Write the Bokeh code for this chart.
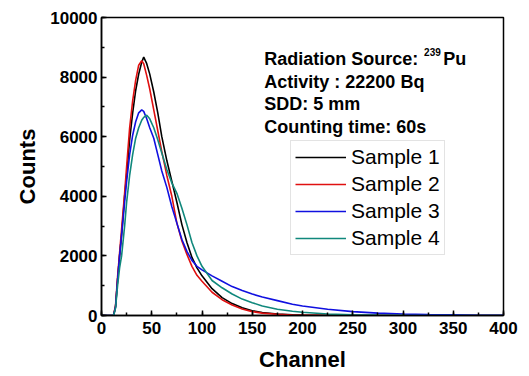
from bokeh.plotting import figure
from bokeh.models import Legend, LegendItem, Label, Range1d, FixedTicker
from bokeh.embed import file_html
from bokeh.resources import INLINE

channels = [0, 12, 14, 16, 18, 20, 23, 25, 28, 31, 34, 37, 40, 42, 45, 48, 52, 56, 60,
            65, 70, 75, 80, 85, 90, 95, 100, 110, 120, 130, 140, 150, 160, 175, 190,
            200, 225, 250, 275, 300, 325, 350, 375, 400]

sample1 = [0, 0, 300, 1200, 2000, 2700, 4000, 4700, 5900, 6800, 7550, 8100, 8500, 8670,
           8450, 8100, 7500, 6800, 6000, 5200, 4500, 3800, 3050, 2450, 1950, 1600, 1330,
           900, 600, 400, 260, 160, 100, 50, 25, 18, 8, 4, 2, 0, 0, 0, 0, 0]
sample2 = [0, 0, 350, 1300, 2100, 2900, 4100, 5000, 6300, 7200, 7900, 8400, 8550, 8450,
           8050, 7600, 6900, 6200, 5500, 4700, 4000, 3100, 2500, 2050, 1650, 1350, 1150,
           780, 530, 350, 220, 130, 80, 40, 15, 10, 3, 0, 0, 0, 0, 0, 0, 0]
sample3 = [0, 0, 300, 1200, 2000, 2700, 3800, 4500, 5400, 6050, 6500, 6800, 6900, 6850,
           6600, 6300, 5950, 5400, 4850, 4300, 3650, 3100, 2550, 2150, 1850, 1650, 1530,
           1330, 1150, 970, 840, 720, 620, 500, 380, 320, 210, 130, 80, 50, 30, 20, 10, 5]
sample4 = [0, 0, 250, 1000, 1600, 2000, 3000, 3800, 4700, 5400, 5950, 6300, 6550, 6650,
           6720, 6600, 6300, 5900, 5450, 4900, 4450, 4100, 3600, 3050, 2450, 2000, 1650,
           1175, 930, 720, 550, 430, 320, 210, 140, 110, 50, 25, 12, 5, 2, 0, 0, 0]

series_names = ["Sample 1", "Sample 2", "Sample 3", "Sample 4"]
series_colors = ["#000000", "#e01010", "#1010e0", "#10887c"]

x_ticks = [0, 50, 100, 150, 200, 250, 300, 350, 400]
y_ticks = [0, 2000, 4000, 6000, 8000, 10000]

FONT = "Liberation Sans"

p = figure(width=529, height=376, output_backend="svg", toolbar_location=None,
           x_range=Range1d(0, 400), y_range=Range1d(0, 10000),
           min_border_left=101, min_border_right=26, min_border_top=17, min_border_bottom=61)
p.grid.visible = False
p.outline_line_color = "black"
p.outline_line_width = 1.5
p.background_fill_color = "white"
p.border_fill_color = "white"

renderers = []
for ys, c in zip([sample1, sample2, sample3, sample4], series_colors):
    r = p.line(channels, ys, line_color=c, line_width=1.6)
    renderers.append(r)

for ax in (p.xaxis[0], p.yaxis[0]):
    ax.axis_line_color = "black"
    ax.axis_line_width = 1.5
    ax.major_tick_in = 5
    ax.major_tick_out = 0
    ax.minor_tick_in = 3
    ax.minor_tick_out = 0
    ax.major_tick_line_color = "black"
    ax.minor_tick_line_color = "black"
    ax.major_tick_line_width = 1.5
    ax.minor_tick_line_width = 1.5
    ax.major_label_text_font = FONT
    ax.major_label_text_font_style = "bold"
    ax.major_label_text_font_size = "17px"
    ax.major_label_text_color = "black"
    ax.axis_label_text_font = FONT
    ax.axis_label_text_font_style = "bold"
    ax.axis_label_text_font_size = "22px"
    ax.axis_label_text_color = "black"

p.xaxis[0].ticker = FixedTicker(ticks=x_ticks, minor_ticks=list(range(0, 401, 25)))
p.yaxis[0].ticker = FixedTicker(ticks=y_ticks, minor_ticks=list(range(0, 10001, 1000)))
p.xaxis[0].axis_label = "Channel"
p.yaxis[0].axis_label = "Counts"
p.xaxis[0].major_label_standoff = 6
p.yaxis[0].major_label_standoff = 4
p.xaxis[0].axis_label_standoff = 10
p.yaxis[0].axis_label_standoff = 7

legend = Legend(items=[LegendItem(label=n, renderers=[r]) for n, r in zip(series_names, renderers)],
                location=(189, 60), label_text_font=FONT, label_text_font_size="21px",
                label_text_color="black", glyph_width=51, glyph_height=20, label_height=20,
                spacing=3, padding=4, label_standoff=5, margin=0,
                border_line_color="#c8c8c8", border_line_width=1,
                background_fill_color="white", background_fill_alpha=1.0)
p.add_layout(legend, "center")

info_lines = ["Radiation Source: ", "Activity : 22200 Bq", "SDD: 5 mm", "Counting time: 60s"]
info_y = [8624, 7852, 7081, 6309]
for t, yv in zip(info_lines, info_y):
    p.add_layout(Label(x=162, y=yv, text=t, text_font=FONT, text_font_style="bold",
                       text_font_size="18px", text_color="black", text_baseline="alphabetic"))
p.add_layout(Label(x=321, y=8826, text="239", text_font=FONT, text_font_style="bold",
                   text_font_size="10px", text_color="black", text_baseline="alphabetic"))
p.add_layout(Label(x=340, y=8624, text="Pu", text_font=FONT, text_font_style="bold",
                   text_font_size="18px", text_color="black", text_baseline="alphabetic"))

open("out.html", "w").write(file_html(p, INLINE))
